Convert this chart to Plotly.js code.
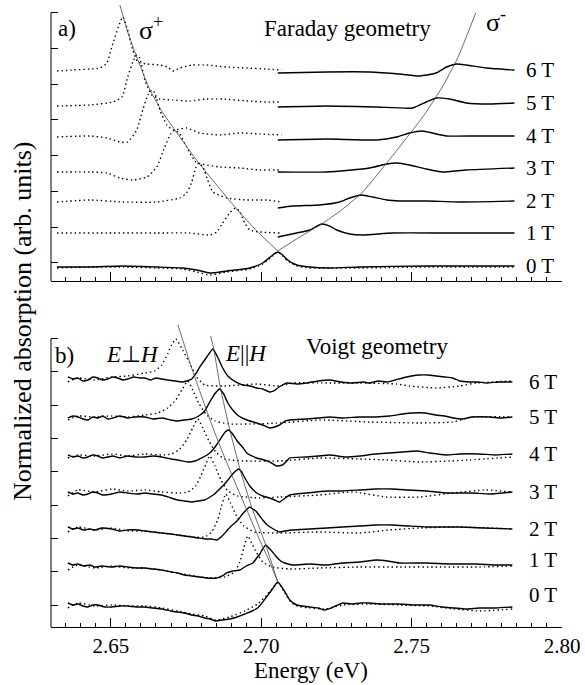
<!DOCTYPE html>
<html>
<head>
<meta charset="utf-8">
<script src="https://cdn.plot.ly/plotly-3.0.1.min.js"></script>
<style>html,body{margin:0;padding:0;background:#fff}</style>
</head>
<body>
<div id="chart" style="width:585px;height:685px"></div>
<script>
// Magneto-absorption spectra, [energy (eV), normalized absorption (arb. units)].
// Each spectrum is already stacked by field so the curves sit one above another.

const fields = ['0 T', '1 T', '2 T', '3 T', '4 T', '5 T', '6 T'];

// ---- a) Faraday geometry: sigma+ (dotted) ----
const faradayPlus0T = [[2.6321,1.3],[2.6431,1.4],[2.6540,1.4],[2.6653,1.3],[2.6739,1.2],[2.6785,0.9],[2.6829,0.6],[2.6885,0.9],[2.6962,1.2],[2.7005,1.7],[2.7038,2.5],[2.7055,2.9],[2.7071,2.5],[2.7088,2.0],[2.7118,1.5],[2.7161,1.3],[2.7227,1.3],[2.7327,1.3],[2.7549,1.4],[2.7842,1.4]];
const faradayPlus1T = [[2.6321,4.8],[2.6487,4.8],[2.6653,4.8],[2.6762,4.8],[2.6829,4.6],[2.6852,4.9],[2.6872,5.8],[2.6895,6.8],[2.6915,7.3],[2.6929,6.9],[2.6945,5.8],[2.6962,5.1],[2.6995,4.9],[2.7061,4.8]];
const faradayPlus2T = [[2.6321,7.9],[2.6431,8.1],[2.6540,7.9],[2.6653,7.9],[2.6729,8.3],[2.6752,8.8],[2.6769,9.9],[2.6782,11.3],[2.6792,11.8],[2.6806,11.4],[2.6822,10.1],[2.6839,8.9],[2.6885,8.3],[2.6952,8.1],[2.7018,8.1],[2.7068,7.9]];
const faradayPlus3T = [[2.6321,10.9],[2.6431,10.9],[2.6487,10.8],[2.6530,10.3],[2.6573,10.1],[2.6620,10.4],[2.6653,11.4],[2.6679,13.4],[2.6699,14.7],[2.6713,15.1],[2.6729,14.7],[2.6752,13.4],[2.6782,11.9],[2.6819,11.6],[2.6862,11.4],[2.6929,11.3],[2.6995,11.1],[2.7068,11.1]];
const faradayPlus4T = [[2.6321,14.4],[2.6431,14.5],[2.6487,14.3],[2.6530,13.9],[2.6556,13.9],[2.6586,15.1],[2.6606,17.1],[2.6623,18.6],[2.6636,19.1],[2.6646,18.8],[2.6663,17.1],[2.6686,15.6],[2.6706,15.1],[2.6752,15.3],[2.6796,14.8],[2.6862,14.6],[2.6929,14.8],[2.6995,14.7],[2.7068,14.6]];
const faradayPlus5T = [[2.6321,17.5],[2.6431,17.6],[2.6507,17.9],[2.6537,18.4],[2.6556,20.4],[2.6573,21.9],[2.6586,22.6],[2.6596,22.3],[2.6613,20.1],[2.6636,18.6],[2.6663,18.2],[2.6706,18.1],[2.6762,18.0],[2.6819,18.2],[2.6872,18.2],[2.6952,18.0],[2.7018,17.9],[2.7068,17.9]];
const faradayPlus6T = [[2.6321,21.0],[2.6374,21.1],[2.6431,21.2],[2.6464,21.3],[2.6487,21.8],[2.6507,23.8],[2.6530,25.8],[2.6540,26.4],[2.6553,25.4],[2.6573,23.1],[2.6590,21.9],[2.6620,21.7],[2.6663,21.6],[2.6689,21.4],[2.6706,21.0],[2.6729,21.3],[2.6772,21.6],[2.6819,21.6],[2.6885,21.4],[2.6952,21.3],[2.7018,21.2],[2.7068,21.1]];

// ---- a) Faraday geometry: sigma- (solid) ----
const faradayMinus0T = [[2.6321,1.4],[2.6431,1.4],[2.6540,1.5],[2.6653,1.4],[2.6739,1.3],[2.6785,1.1],[2.6829,0.8],[2.6885,1.0],[2.6962,1.3],[2.7005,1.8],[2.7038,2.6],[2.7055,2.9],[2.7071,2.6],[2.7088,2.1],[2.7118,1.6],[2.7161,1.4],[2.7227,1.3],[2.7327,1.4],[2.7549,1.5],[2.7842,1.5]];
const faradayMinus1T = [[2.7055,4.4],[2.7118,4.8],[2.7161,5.1],[2.7201,5.7],[2.7227,5.5],[2.7251,5.1],[2.7294,4.7],[2.7337,4.6],[2.7436,4.8],[2.7602,4.8],[2.7725,4.8],[2.7842,4.8]];
const faradayMinus2T = [[2.7055,7.3],[2.7105,7.5],[2.7194,7.6],[2.7261,7.9],[2.7294,8.3],[2.7334,8.6],[2.7370,8.4],[2.7417,8.1],[2.7460,8.0],[2.7549,8.0],[2.7659,7.9],[2.7842,8.0]];
const faradayMinus3T = [[2.7055,10.9],[2.7218,10.9],[2.7360,11.3],[2.7417,11.7],[2.7453,11.8],[2.7493,11.6],[2.7549,11.2],[2.7602,10.9],[2.7682,11.1],[2.7842,11.3]];
const faradayMinus4T = [[2.7055,14.1],[2.7218,14.2],[2.7384,14.1],[2.7450,14.4],[2.7493,14.8],[2.7536,15.0],[2.7569,14.8],[2.7616,14.5],[2.7715,14.5],[2.7842,14.5]];
const faradayMinus5T = [[2.7055,17.4],[2.7218,17.5],[2.7384,17.4],[2.7503,17.3],[2.7549,17.9],[2.7582,18.3],[2.7626,18.2],[2.7682,17.8],[2.7759,17.7],[2.7842,17.8]];
const faradayMinus6T = [[2.7055,20.8],[2.7218,20.9],[2.7360,20.9],[2.7460,20.7],[2.7527,20.5],[2.7582,20.8],[2.7616,21.4],[2.7649,21.7],[2.7682,21.6],[2.7749,21.3],[2.7842,21.1]];

// Peak-position guides for sigma+ and sigma-
const sigmaPlusFit  = [[2.6530,27.6],[2.6556,24.9],[2.6586,22.4],[2.6630,19.1],[2.6669,17.0],[2.6713,15.1],[2.6792,11.8],[2.6849,9.7],[2.6915,7.3],[2.6982,5.1],[2.7055,3.0]];
const sigmaMinusFit = [[2.7055,3.0],[2.7128,4.4],[2.7201,5.7],[2.7267,7.1],[2.7334,8.8],[2.7404,11.3],[2.7470,13.8],[2.7537,16.4],[2.7600,19.3],[2.7653,22.3],[2.7713,26.8]];

// ---- b) Voigt geometry: E perpendicular to H (dotted) ----
const voigtPerp0T = [[2.6357,1.9],[2.6390,2.4],[2.6447,2.1],[2.6503,2.2],[2.6556,2.1],[2.6613,2.1],[2.6669,1.9],[2.6722,1.6],[2.6769,1.3],[2.6812,1.1],[2.6849,0.7],[2.6895,1.0],[2.6945,1.6],[2.6988,2.3],[2.7015,3.1],[2.7035,3.8],[2.7055,4.4],[2.7075,3.6],[2.7095,2.6],[2.7118,2.1],[2.7161,1.9],[2.7211,1.8],[2.7271,2.2],[2.7360,2.3],[2.7460,2.2],[2.7559,2.1],[2.7642,1.8],[2.7725,1.6],[2.7835,1.8]];
const voigtPerp1T = [[2.6357,5.7],[2.6390,6.2],[2.6447,5.9],[2.6503,6.1],[2.6556,5.9],[2.6613,5.9],[2.6669,5.7],[2.6722,5.4],[2.6779,5.1],[2.6829,4.9],[2.6879,5.0],[2.6912,5.5],[2.6929,6.5],[2.6942,7.9],[2.6955,9.1],[2.6968,8.4],[2.6985,7.4],[2.7005,6.5],[2.7035,6.0],[2.7095,5.8],[2.7194,5.9],[2.7327,6.0],[2.7460,6.0],[2.7593,6.0],[2.7725,6.0],[2.7835,6.1]];
const voigtPerp2T = [[2.6357,9.5],[2.6390,10.0],[2.6447,9.7],[2.6503,9.9],[2.6556,9.6],[2.6613,9.6],[2.6669,9.4],[2.6722,9.2],[2.6779,9.0],[2.6812,9.0],[2.6835,9.5],[2.6855,10.7],[2.6868,12.1],[2.6882,13.3],[2.6898,12.4],[2.6918,11.1],[2.6942,10.1],[2.6978,9.5],[2.7061,9.4],[2.7194,9.5],[2.7327,9.4],[2.7427,9.7],[2.7526,9.9],[2.7659,10.0],[2.7835,9.8]];
const voigtPerp3T = [[2.6357,13.1],[2.6390,13.7],[2.6447,13.5],[2.6503,13.8],[2.6556,13.6],[2.6613,13.7],[2.6669,13.5],[2.6722,13.4],[2.6756,13.5],[2.6782,14.1],[2.6799,15.1],[2.6816,16.3],[2.6829,17.1],[2.6846,16.1],[2.6866,14.7],[2.6889,13.6],[2.6922,13.1],[2.6995,12.9],[2.7061,13.0],[2.7194,13.2],[2.7304,13.5],[2.7417,13.0],[2.7526,13.0],[2.7636,13.4],[2.7749,13.7],[2.7835,13.5]];
const voigtPerp4T = [[2.6357,16.9],[2.6390,17.2],[2.6447,17.1],[2.6503,17.3],[2.6556,17.1],[2.6613,17.3],[2.6669,17.2],[2.6702,17.3],[2.6729,17.8],[2.6752,18.7],[2.6772,19.9],[2.6789,20.8],[2.6806,19.9],[2.6826,18.6],[2.6849,17.5],[2.6879,16.8],[2.6945,16.6],[2.7061,16.6],[2.7194,16.9],[2.7327,16.8],[2.7417,16.7],[2.7526,16.5],[2.7626,16.6],[2.7692,16.7],[2.7835,17.0]];
const voigtPerp5T = [[2.6357,20.7],[2.6390,21.1],[2.6447,21.0],[2.6503,21.1],[2.6556,21.0],[2.6613,21.2],[2.6656,21.4],[2.6689,21.9],[2.6716,22.7],[2.6736,23.7],[2.6756,24.6],[2.6772,23.7],[2.6792,22.4],[2.6816,21.3],[2.6846,20.6],[2.6895,20.3],[2.6962,20.3],[2.7061,20.4],[2.7194,20.7],[2.7360,20.5],[2.7526,20.4],[2.7636,20.5],[2.7702,21.0],[2.7835,21.0]];
const voigtPerp6T = [[2.6357,24.5],[2.6390,24.9],[2.6447,24.7],[2.6503,25.0],[2.6556,25.1],[2.6613,25.4],[2.6646,25.6],[2.6669,26.2],[2.6689,27.3],[2.6702,28.2],[2.6716,28.8],[2.6739,27.7],[2.6762,26.4],[2.6785,25.0],[2.6812,24.2],[2.6872,24.1],[2.6985,24.3],[2.7061,24.1],[2.7104,24.4],[2.7228,24.4],[2.7327,24.4],[2.7450,24.3],[2.7493,24.1],[2.7582,23.9],[2.7659,24.1],[2.7715,24.4],[2.7835,24.6]];

// ---- b) Voigt geometry: E parallel to H (solid) ----
const voigtPar0T = [[2.6357,2.4],[2.6374,2.2],[2.6390,2.3],[2.6407,2.1],[2.6424,2.0],[2.6440,2.2],[2.6457,2.2],[2.6480,2.0],[2.6503,2.0],[2.6530,2.1],[2.6556,2.1],[2.6585,2.0],[2.6613,2.0],[2.6640,1.9],[2.6669,1.8],[2.6700,1.6],[2.6722,1.5],[2.6745,1.4],[2.6769,1.2],[2.6790,1.1],[2.6812,0.9],[2.6830,0.8],[2.6849,0.6],[2.6870,0.7],[2.6895,0.8],[2.6920,1.0],[2.6945,1.3],[2.6970,1.6],[2.6988,1.9],[2.7000,2.3],[2.7015,2.9],[2.7035,3.7],[2.7055,4.5],[2.7075,3.7],[2.7095,2.7],[2.7118,2.2],[2.7161,2.0],[2.7190,1.9],[2.7211,1.7],[2.7240,2.0],[2.7271,2.4],[2.7300,2.3],[2.7330,2.4],[2.7360,2.4],[2.7400,2.3],[2.7460,2.3],[2.7510,2.2],[2.7559,2.2],[2.7600,2.0],[2.7642,1.9],[2.7680,1.8],[2.7725,1.9],[2.7780,1.9],[2.7835,2.0]];
const voigtPar1T = [[2.6357,6.4],[2.6374,6.2],[2.6390,6.3],[2.6410,6.1],[2.6430,6.2],[2.6447,6.0],[2.6470,6.1],[2.6503,6.0],[2.6530,6.1],[2.6556,6.0],[2.6590,5.9],[2.6613,5.9],[2.6640,5.8],[2.6669,5.7],[2.6700,5.5],[2.6722,5.4],[2.6745,5.2],[2.6769,5.1],[2.6795,5.0],[2.6819,4.9],[2.6852,4.9],[2.6870,5.1],[2.6885,5.4],[2.6905,5.6],[2.6929,5.7],[2.6950,6.1],[2.6972,6.4],[2.6985,6.9],[2.6995,7.3],[2.7005,7.8],[2.7015,8.2],[2.7025,7.9],[2.7032,7.7],[2.7051,7.0],[2.7065,6.6],[2.7078,6.4],[2.7104,6.2],[2.7160,6.3],[2.7218,6.2],[2.7270,6.4],[2.7327,6.5],[2.7384,6.7],[2.7420,6.6],[2.7460,6.4],[2.7549,6.4],[2.7630,6.3],[2.7715,6.3],[2.7780,6.2],[2.7835,6.2]];
const voigtPar2T = [[2.6357,10.0],[2.6374,9.8],[2.6390,9.9],[2.6410,9.7],[2.6430,9.8],[2.6447,9.7],[2.6470,9.9],[2.6503,9.8],[2.6530,9.6],[2.6556,9.7],[2.6590,9.7],[2.6613,9.6],[2.6640,9.5],[2.6669,9.4],[2.6700,9.3],[2.6722,9.2],[2.6745,9.1],[2.6769,9.0],[2.6790,8.9],[2.6812,8.8],[2.6835,8.8],[2.6852,8.7],[2.6870,9.1],[2.6885,9.6],[2.6900,10.1],[2.6912,10.4],[2.6925,10.8],[2.6935,11.2],[2.6950,11.7],[2.6962,12.0],[2.6972,11.8],[2.6982,11.6],[2.6995,11.1],[2.7005,10.7],[2.7020,10.2],[2.7035,9.9],[2.7061,9.5],[2.7080,9.6],[2.7104,9.7],[2.7160,9.8],[2.7218,9.9],[2.7270,10.0],[2.7327,10.1],[2.7380,10.2],[2.7437,10.2],[2.7490,10.1],[2.7549,10.0],[2.7600,10.0],[2.7659,10.0],[2.7740,9.9],[2.7835,9.8]];
const voigtPar3T = [[2.6357,13.5],[2.6374,13.3],[2.6390,13.4],[2.6407,13.2],[2.6424,13.3],[2.6440,13.5],[2.6457,13.4],[2.6473,13.2],[2.6503,13.3],[2.6530,13.5],[2.6556,13.4],[2.6590,13.3],[2.6613,13.4],[2.6640,13.3],[2.6669,13.2],[2.6700,12.9],[2.6722,12.7],[2.6745,12.6],[2.6769,12.5],[2.6790,12.6],[2.6812,12.7],[2.6830,13.0],[2.6845,13.3],[2.6862,13.8],[2.6878,14.3],[2.6892,14.8],[2.6905,15.3],[2.6915,15.6],[2.6925,15.8],[2.6935,15.5],[2.6942,15.1],[2.6962,14.1],[2.6985,13.4],[2.7005,13.1],[2.7028,12.9],[2.7045,12.7],[2.7061,12.5],[2.7080,12.9],[2.7095,13.2],[2.7151,13.4],[2.7218,13.6],[2.7270,13.6],[2.7327,13.7],[2.7380,13.8],[2.7437,13.8],[2.7490,13.7],[2.7549,13.6],[2.7620,13.4],[2.7702,13.4],[2.7760,13.3],[2.7835,13.5]];
const voigtPar4T = [[2.6357,17.2],[2.6374,17.0],[2.6390,17.1],[2.6407,16.9],[2.6424,17.0],[2.6440,17.2],[2.6457,17.1],[2.6473,16.9],[2.6490,17.0],[2.6507,17.1],[2.6530,16.9],[2.6556,17.1],[2.6580,17.0],[2.6613,17.0],[2.6640,17.1],[2.6669,17.0],[2.6700,16.8],[2.6722,16.7],[2.6756,16.5],[2.6780,16.6],[2.6802,16.9],[2.6829,17.4],[2.6849,18.1],[2.6869,19.0],[2.6880,19.5],[2.6892,19.7],[2.6905,19.3],[2.6920,18.6],[2.6940,17.9],[2.6952,17.4],[2.6985,16.9],[2.7010,16.7],[2.7028,16.5],[2.7051,16.1],[2.7071,16.2],[2.7085,16.6],[2.7095,16.9],[2.7151,17.0],[2.7190,17.1],[2.7228,17.2],[2.7280,17.0],[2.7327,17.1],[2.7380,17.3],[2.7427,17.4],[2.7470,17.5],[2.7516,17.6],[2.7560,17.4],[2.7616,17.2],[2.7660,17.3],[2.7725,17.3],[2.7780,17.2],[2.7835,17.3]];
const voigtPar5T = [[2.6357,20.9],[2.6374,21.1],[2.6390,21.0],[2.6407,20.8],[2.6424,20.7],[2.6440,21.0],[2.6457,20.9],[2.6473,21.1],[2.6490,20.8],[2.6507,20.9],[2.6530,21.1],[2.6556,20.9],[2.6580,21.0],[2.6613,21.0],[2.6640,20.8],[2.6669,20.9],[2.6700,20.7],[2.6722,20.6],[2.6745,20.7],[2.6769,20.8],[2.6792,21.1],[2.6812,21.6],[2.6829,22.5],[2.6845,23.3],[2.6862,23.8],[2.6875,23.3],[2.6889,22.4],[2.6905,21.7],[2.6925,21.1],[2.6952,20.7],[2.6985,20.4],[2.7005,20.2],[2.7028,19.9],[2.7045,20.0],[2.7061,20.2],[2.7080,20.6],[2.7095,20.7],[2.7151,20.8],[2.7190,20.9],[2.7228,21.0],[2.7270,20.9],[2.7327,21.0],[2.7380,21.0],[2.7427,21.1],[2.7470,21.3],[2.7503,21.4],[2.7543,21.4],[2.7580,21.2],[2.7609,21.1],[2.7640,20.9],[2.7669,20.8],[2.7700,21.0],[2.7759,21.0],[2.7800,20.9],[2.7835,21.0]];
const voigtPar6T = [[2.6357,25.0],[2.6374,24.8],[2.6390,24.9],[2.6407,24.6],[2.6424,24.7],[2.6440,25.0],[2.6457,24.9],[2.6473,24.7],[2.6490,24.8],[2.6507,25.0],[2.6523,24.9],[2.6540,24.7],[2.6556,24.8],[2.6576,25.0],[2.6596,24.9],[2.6613,24.9],[2.6633,24.7],[2.6650,24.9],[2.6669,24.8],[2.6689,24.7],[2.6713,24.6],[2.6736,24.5],[2.6752,24.6],[2.6769,24.8],[2.6782,25.3],[2.6796,26.0],[2.6819,27.0],[2.6839,27.8],[2.6855,27.0],[2.6872,25.9],[2.6889,25.1],[2.6905,24.7],[2.6922,24.4],[2.6939,24.2],[2.6962,24.1],[2.6985,23.9],[2.7005,23.8],[2.7028,23.5],[2.7042,23.6],[2.7055,23.9],[2.7071,24.2],[2.7085,24.4],[2.7118,24.3],[2.7151,24.4],[2.7190,24.6],[2.7228,24.7],[2.7265,24.5],[2.7304,24.4],[2.7340,24.5],[2.7360,24.4],[2.7390,24.6],[2.7417,24.5],[2.7445,24.7],[2.7470,24.9],[2.7500,25.1],[2.7526,25.2],[2.7555,25.2],[2.7582,25.1],[2.7610,25.0],[2.7636,24.9],[2.7660,24.6],[2.7692,24.5],[2.7720,24.5],[2.7749,24.4],[2.7790,24.5],[2.7835,24.5]];

// Peak-position guides for the two Voigt polarizations
const perpFit = [[2.6723,30.2],[2.6739,28.7],[2.6762,26.5],[2.6786,24.4],[2.6812,22.2],[2.6842,19.7],[2.6875,17.2],[2.6912,14.5],[2.6952,11.7],[2.6995,8.7],[2.7028,6.5],[2.7055,4.5]];
const parFit  = [[2.6832,29.1],[2.6842,27.8],[2.6865,23.8],[2.6895,19.8],[2.6929,15.8],[2.6968,12.0],[2.7015,8.2],[2.7055,4.5]];

const faradayPlus  = [faradayPlus0T, faradayPlus1T, faradayPlus2T, faradayPlus3T, faradayPlus4T, faradayPlus5T, faradayPlus6T];
const faradayMinus = [faradayMinus0T, faradayMinus1T, faradayMinus2T, faradayMinus3T, faradayMinus4T, faradayMinus5T, faradayMinus6T];
const voigtPerp    = [voigtPerp0T, voigtPerp1T, voigtPerp2T, voigtPerp3T, voigtPerp4T, voigtPerp5T, voigtPerp6T];
const voigtPar     = [voigtPar0T, voigtPar1T, voigtPar2T, voigtPar3T, voigtPar4T, voigtPar5T, voigtPar6T];

const FONT = 'Liberation Serif';
const DOT = '1.4px,3px';

function trace(points, xa, ya, style) {
  return {
    x: points.map(p => p[0]),
    y: points.map(p => p[1]),
    xaxis: xa, yaxis: ya,
    type: 'scatter', mode: 'lines',
    hoverinfo: 'skip', showlegend: false,
    line: Object.assign({ color: '#000', shape: 'spline', smoothing: 0.5 }, style)
  };
}

const solid = { width: 1.4 };
const dotted = { width: 1.4, dash: DOT };
const guide = { width: 0.8, color: '#444' };

const data = [];
faradayPlus.forEach(s => data.push(trace(s, 'x', 'y', dotted)));
faradayMinus.forEach(s => data.push(trace(s, 'x', 'y', solid)));
data.push(trace(sigmaPlusFit, 'x', 'y', guide));
data.push(trace(sigmaMinusFit, 'x', 'y', guide));
voigtPerp.forEach(s => data.push(trace(s, 'x2', 'y2', dotted)));
voigtPar.forEach(s => data.push(trace(s, 'x2', 'y2', solid)));
data.push(trace(perpFit, 'x2', 'y2', guide));
data.push(trace(parFit, 'x2', 'y2', guide));

const energyRange = [2.6301, 2.80];

function energyAxis(anchor, labels) {
  return {
    anchor: anchor, domain: [0, 1], range: energyRange,
    showline: true, linecolor: '#000', linewidth: 1,
    showgrid: false, zeroline: false,
    tickmode: 'linear', tick0: 2.65, dtick: 0.05,
    ticks: 'inside', ticklen: 9, tickwidth: 1, tickcolor: '#000',
    minor: { tick0: 2.65, dtick: 0.005, ticks: 'inside', ticklen: 4, tickwidth: 1, tickcolor: '#000', showgrid: false },
    showticklabels: labels, tickformat: '.2f',
    tickfont: { family: FONT, size: 21, color: '#000' }
  };
}

function absorptionAxis(domain, top, tick0, dtick) {
  return {
    domain: domain, range: [0, top], anchor: 'x',
    showline: false, showgrid: false, zeroline: false,
    tickmode: 'linear', tick0: tick0, dtick: dtick,
    ticks: 'inside', ticklen: 7, tickwidth: 1, tickcolor: '#000',
    showticklabels: false
  };
}

// Field labels at the right-hand end of each solid spectrum
const annotations = [];
const voigtLabelShift = [12, 5, 0, 0, 0, 0, 0];
fields.forEach((f, i) => {
  const a = faradayMinus[i], b = voigtPar[i];
  annotations.push({ text: f, xref: 'x', yref: 'y', x: 2.7875, y: a[a.length - 1][1],
    xanchor: 'left', yanchor: 'middle', showarrow: false, font: { family: FONT, size: 21, color: '#000' } });
  annotations.push({ text: f, xref: 'x2', yref: 'y2', x: 2.7885, y: b[b.length - 1][1], yshift: voigtLabelShift[i],
    xanchor: 'left', yanchor: 'middle', showarrow: false, font: { family: FONT, size: 21, color: '#000' } });
});

function note(text, xa, ya, x, y, size) {
  return { text: text, xref: xa, yref: ya, x: x, y: y, xanchor: 'center', yanchor: 'middle',
    showarrow: false, font: { family: FONT, size: size, color: '#000' } };
}
annotations.push(note('a)', 'x', 'y', 2.6354, 25.3, 23));
annotations.push(note('σ<sup>+</sup>', 'x', 'y', 2.6633, 25.3, 26));
annotations.push(note('Faraday geometry', 'x', 'y', 2.7287, 25.3, 23));
annotations.push(note('σ<sup>-</sup>', 'x', 'y', 2.7782, 26.1, 26));
annotations.push(note('b)', 'x2', 'y2', 2.6347, 27.1, 23));
annotations.push(note('<i>E</i>⊥<i>H</i>', 'x2', 'y2', 2.6573, 27.2, 23));
annotations.push(note('<i>E</i>||<i>H</i>', 'x2', 'y2', 2.6949, 27.3, 23));
annotations.push(note('Voigt geometry', 'x2', 'y2', 2.7387, 28.0, 23));

// Axis titles
annotations.push({ text: 'Normalized absorption (arb. units)', xref: 'paper', yref: 'paper',
  x: -0.0568, y: 0.491, xanchor: 'center', yanchor: 'middle', textangle: -90, showarrow: false,
  font: { family: FONT, size: 26, color: '#000' } });
annotations.push({ text: 'Energy (eV)', xref: 'paper', yref: 'paper',
  x: 0.509, y: -0.07, xanchor: 'center', yanchor: 'middle', showarrow: false,
  font: { family: FONT, size: 23, color: '#000' } });

// Vertical (absorption) axis lines, ending at the topmost tick of each panel
const shapes = [
  { type: 'line', xref: 'paper', yref: 'paper', x0: 0, x1: 0, y0: 0.5554, y1: 0.9865, line: { color: '#000', width: 1 } },
  { type: 'line', xref: 'paper', yref: 'paper', x0: 0, x1: 0, y0: 0, y1: 0.4631, line: { color: '#000', width: 1 } }
];

const layout = {
  width: 585, height: 685,
  margin: { l: 51, r: 23, t: 4, b: 58, pad: 0 },
  paper_bgcolor: '#fff', plot_bgcolor: 'rgba(0,0,0,0)',
  font: { family: FONT, color: '#000' },
  showlegend: false,
  xaxis: energyAxis('y', false),
  yaxis: absorptionAxis([0.5554, 1], 27.7, 1.8, 3.58),
  xaxis2: energyAxis('y2', true),
  yaxis2: Object.assign(absorptionAxis([0, 0.4864], 30.3, 2.2, 3.33), { anchor: 'x2' }),
  annotations: annotations,
  shapes: shapes
};

Plotly.newPlot('chart', data, layout, { staticPlot: true, displayModeBar: false });
</script>
</body>
</html>
